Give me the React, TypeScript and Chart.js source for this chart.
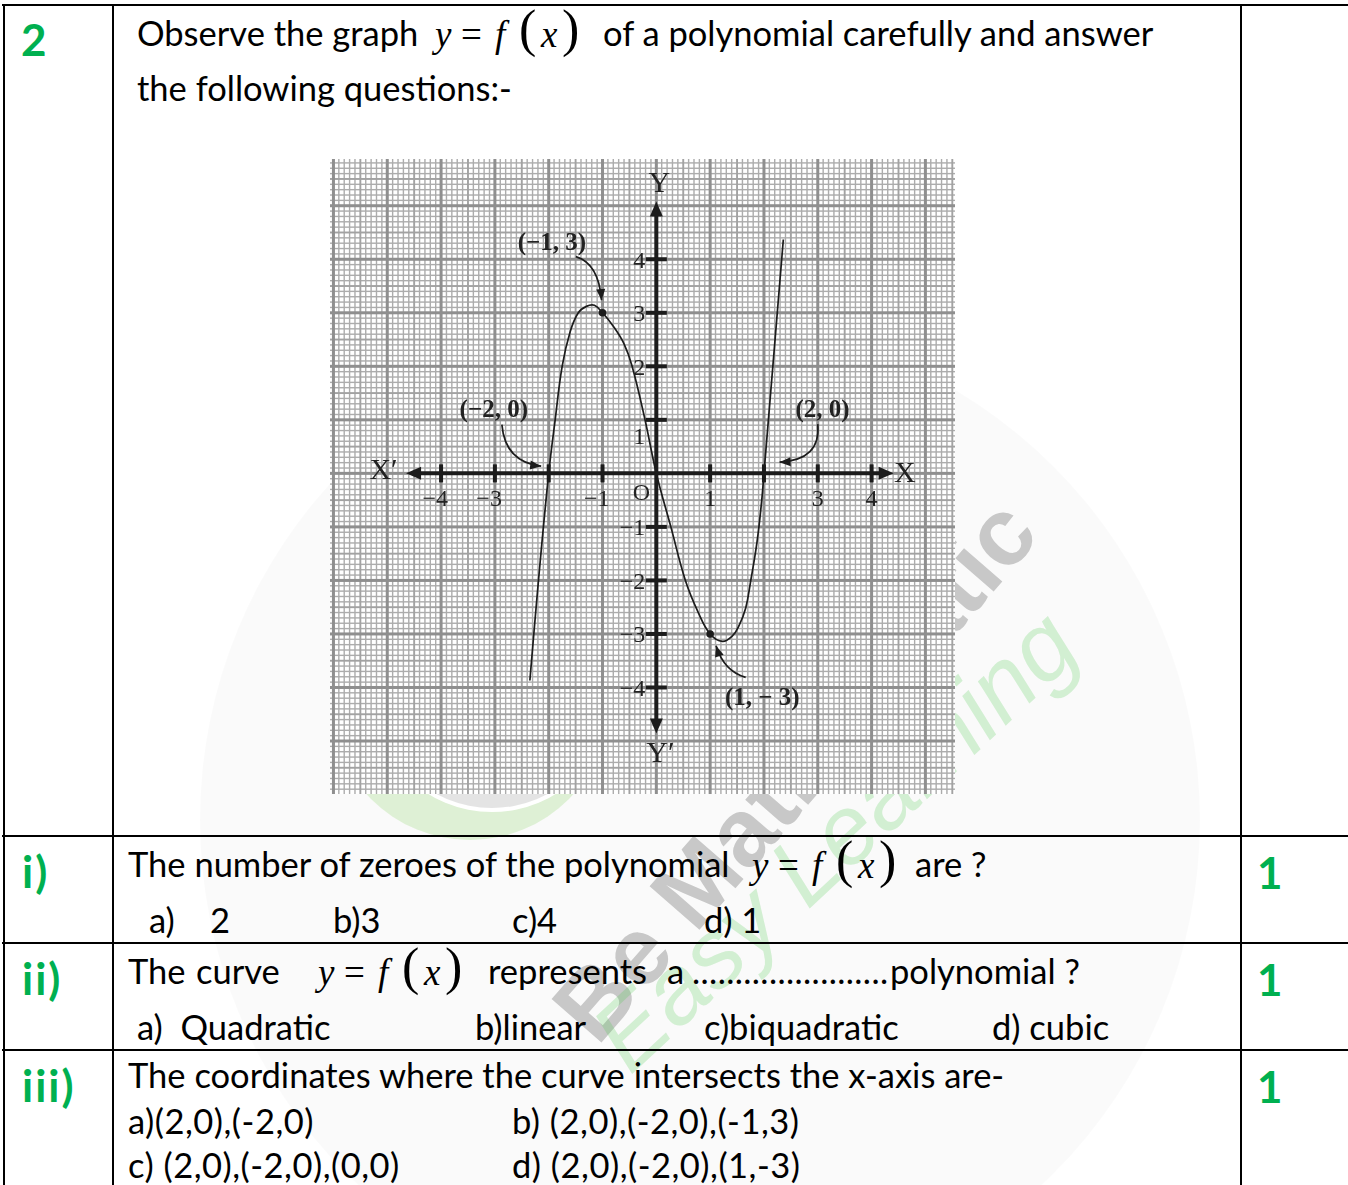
import React, { useEffect, useRef } from "react";
import { Chart, registerables } from "chart.js";

Chart.register(...registerables);

// Samples along the plotted polynomial curve y = f(x)
const curveX = [-2.35, -2.19, -2.0, -1.88, -1.75, -1.6, -1.45, -1.3, -1.15, -1.0, -0.8, -0.6, -0.45, -0.21, 0, 0.27, 0.54, 0.78, 1.0, 1.23, 1.41, 1.53, 1.66, 1.75, 1.87, 1.96, 2.0, 2.165, 2.36];
const curveY = [-3.87, -2.0, 0, 1.0, 2.0, 2.65, 3.0, 3.12, 3.14, 3.0, 2.75, 2.42, 2.0, 1.0, 0, -1.0, -2.0, -2.6, -3.0, -3.14, -3.04, -2.86, -2.52, -2.03, -1.29, -0.49, 0, 2.0, 4.37];

// Turning points marked with dots
const markX = [-1, 1];
const markY = [3, -3];

// Axis ticks and their labels
const axisTicks = [-4, -3, -2, -1, 1, 2, 3, 4];
const xTickText = ["−4", "−3", "", "−1", "1", "", "3", "4"];
const yTickText = ["−4", "−3", "−2", "−1", "1", "2", "3", "4"];

// Callouts: text and the point each arrow points at
const calloutText = ["(−1, 3)", "(−2, 0)", "(2, 0)", "(1, − 3)"];
const calloutX = [-1, -2, 2, 1];
const calloutY = [3, 0, 0, -3];

const X_MIN = -6.064, X_MAX = 5.55, Y_MIN = -5.99, Y_MAX = 5.873;

const SERIF = '"Liberation Serif", "Times New Roman", serif';
const SANS = 'Lato, "Open Sans", sans-serif';
const GREEN = "#00b050";
const INK = "#1c1c1c";
const BODY = 34.5;

// layout of each callout relative to its point, in axis units:
// label centre, arrow start, arrow bend, arrow tip
const calloutLayout = [
  { label: [-0.94, 1.3], start: [-0.495, 1.05], ctrl: [-0.07, 0.92], tip: [-0.018, 0.236] },
  { label: [-1.02, 1.17], start: [-0.87, 0.91], ctrl: [-0.81, 0.21], tip: [-0.14, 0.135] },
  { label: [1.09, 1.17], start: [1.0, 0.92], ctrl: [1.06, 0.245], tip: [0.29, 0.21] },
  { label: [0.97, -1.2], start: [0.66, -0.81], ctrl: [0.26, -0.70], tip: [0.11, -0.22] },
];

// graph-paper ruling: tenths, halves and whole units
const paperPlugin = {
  id: "paper",
  beforeDraw(chart: any) {
    const { ctx, chartArea: a, scales } = chart;
    ctx.save();
    ctx.fillStyle = "#ffffff";
    ctx.fillRect(a.left, a.top, a.right - a.left, a.bottom - a.top);
    const styles = [
      { c: "#acacac", w: 1.4 },
      { c: "#a2a2a2", w: 1.9 },
      { c: "#8f8f8f", w: 3 },
    ];
    for (let pass = 0; pass < 3; pass++) {
      const st = styles[pass];
      ctx.fillStyle = st.c;
      for (let i = Math.ceil(X_MIN * 10); i <= Math.floor(X_MAX * 10); i++) {
        const lvl = i % 10 === 0 ? 2 : i % 5 === 0 ? 1 : 0;
        if (lvl !== pass) continue;
        const x = scales.x.getPixelForValue(i / 10);
        ctx.fillRect(x - st.w / 2, a.top, st.w, a.bottom - a.top);
      }
      for (let i = Math.ceil(Y_MIN * 10); i <= Math.floor(Y_MAX * 10); i++) {
        const lvl = i % 10 === 0 ? 2 : i % 5 === 0 ? 1 : 0;
        if (lvl !== pass) continue;
        const y = scales.y.getPixelForValue(i / 10);
        ctx.fillRect(a.left, y - st.w / 2, a.right - a.left, st.w);
      }
    }
    ctx.restore();
  },
};

function arrowHead(ctx: CanvasRenderingContext2D, fx: number, fy: number, tx: number, ty: number, len: number, half: number) {
  const ang = Math.atan2(ty - fy, tx - fx);
  ctx.beginPath();
  ctx.moveTo(tx, ty);
  ctx.lineTo(tx - len * Math.cos(ang) + half * Math.sin(ang), ty - len * Math.sin(ang) - half * Math.cos(ang));
  ctx.lineTo(tx - len * Math.cos(ang) - half * Math.sin(ang), ty - len * Math.sin(ang) + half * Math.cos(ang));
  ctx.closePath();
  ctx.fill();
}

const axesPlugin = {
  id: "axes",
  beforeDatasetsDraw(chart: any) {
    const { ctx, scales } = chart;
    const X = (v: number) => scales.x.getPixelForValue(v);
    const Y = (v: number) => scales.y.getPixelForValue(v);
    const ox = X(0), oy = Y(0);
    ctx.save();
    ctx.fillStyle = INK;
    ctx.strokeStyle = INK;
    ctx.lineWidth = 4;
    // x axis
    const xl = X(-4.65), xr = X(4.41);
    ctx.beginPath();
    ctx.moveTo(xl + 8, oy);
    ctx.lineTo(xr - 8, oy);
    ctx.stroke();
    arrowHead(ctx, xr - 20, oy, xr, oy, 15, 6.5);
    arrowHead(ctx, xl + 20, oy, xl, oy, 15, 6.5);
    // y axis
    const yt = Y(5.08), yb = Y(-4.86);
    ctx.beginPath();
    ctx.moveTo(ox, yt + 8);
    ctx.lineTo(ox, yb - 8);
    ctx.stroke();
    arrowHead(ctx, ox, yt + 20, ox, yt, 15, 6.5);
    arrowHead(ctx, ox, yb - 20, ox, yb, 15, 6.5);
    // tick marks
    axisTicks.forEach((t) => {
      const x = X(t);
      ctx.fillRect(x - 2, oy - 9, 4, 18);
      const y = Y(t);
      ctx.fillRect(ox - 10.5, y - 2, 21, 4);
    });
    ctx.restore();
  },
  afterDatasetsDraw(chart: any) {
    const { ctx, scales } = chart;
    const X = (v: number) => scales.x.getPixelForValue(v);
    const Y = (v: number) => scales.y.getPixelForValue(v);
    const ox = X(0), oy = Y(0);
    ctx.save();
    ctx.fillStyle = "#222";
    ctx.textBaseline = "middle";
    ctx.font = `24px ${SERIF}`;
    // x tick labels: the digit sits centred under its tick
    axisTicks.forEach((t, i) => {
      const s = xTickText[i];
      if (!s) return;
      const digit = s.replace("−", "");
      const dw = ctx.measureText(digit).width;
      ctx.textAlign = "right";
      ctx.fillText(s, X(t) + dw / 2 + (t < 0 ? 1 : 0), oy + 26);
    });
    ctx.textAlign = "center";
    ctx.fillText("O", ox - 15, oy + 20);
    // y tick labels
    ctx.textAlign = "right";
    axisTicks.forEach((t, i) => {
      const pos = t === 1 ? 0.7 : t;
      ctx.fillText(yTickText[i], ox - 11, Y(pos) + 2);
    });
    // axis names
    ctx.font = `30px ${SERIF}`;
    ctx.textAlign = "center";
    ctx.fillText("X", X(4.62), oy + 1);
    ctx.fillText("X′", X(-5.07), oy - 2);
    ctx.fillText("Y", ox + 3, Y(5.4));
    ctx.fillText("Y′", ox + 4, Y(-5.25));
    // callouts
    calloutText.forEach((txt, i) => {
      const L = calloutLayout[i];
      const bx = calloutX[i], by = calloutY[i];
      ctx.font = `bold 25px ${SERIF}`;
      ctx.textAlign = "center";
      ctx.fillStyle = "#222";
      ctx.fillText(txt, X(bx + L.label[0]), Y(by + L.label[1]));
      const sx = X(bx + L.start[0]), sy = Y(by + L.start[1]);
      const cx = X(bx + L.ctrl[0]), cy = Y(by + L.ctrl[1]);
      const tx = X(bx + L.tip[0]), ty = Y(by + L.tip[1]);
      ctx.strokeStyle = INK;
      ctx.lineWidth = 1.7;
      ctx.beginPath();
      ctx.moveTo(sx, sy);
      ctx.quadraticCurveTo(cx, cy, tx, ty);
      ctx.stroke();
      ctx.fillStyle = INK;
      arrowHead(ctx, cx, cy, tx, ty, 11, 4.5);
    });
    ctx.restore();
  },
};

function PolynomialGraph() {
  const ref = useRef<HTMLCanvasElement>(null);
  useEffect(() => {
    const chart = new Chart(ref.current as HTMLCanvasElement, {
      type: "scatter",
      data: {
        datasets: [
          {
            type: "line",
            data: curveX.map((x, i) => ({ x, y: curveY[i] })),
            borderColor: INK,
            borderWidth: 1.7,
            pointRadius: 0,
            tension: 0.4,
            fill: false,
          } as any,
          {
            type: "scatter",
            data: markX.map((x, i) => ({ x, y: markY[i] })),
            pointRadius: 3.8,
            backgroundColor: INK,
            borderWidth: 0,
          } as any,
        ],
      },
      options: {
        animation: false,
        responsive: false,
        maintainAspectRatio: false,
        events: [],
        layout: { padding: 0 },
        plugins: { legend: { display: false }, tooltip: { enabled: false } },
        scales: {
          x: { type: "linear", min: X_MIN, max: X_MAX, display: false },
          y: { type: "linear", min: Y_MIN, max: Y_MAX, display: false },
        },
      },
      plugins: [paperPlugin, axesPlugin],
    });
    return () => chart.destroy();
  }, []);
  return (
    <canvas
      ref={ref}
      width={633}
      height={643}
      style={{ position: "absolute", left: 326, top: 155, width: 633, height: 643, zIndex: 2 }}
    />
  );
}

function T({ x, base, size = BODY, color = "#000", weight = 400, family = SANS, children, style = {} }: any) {
  return (
    <div
      style={{
        position: "absolute",
        left: x,
        top: base - size * 0.887,
        fontSize: size,
        lineHeight: 1,
        fontFamily: family,
        fontWeight: weight,
        color,
        whiteSpace: "pre",
        zIndex: 3,
        ...style,
      }}
    >
      {children}
    </div>
  );
}

// y = f(x) set in serif italics with tall brackets; glyph offsets follow the typeset equation
function Fx({ x, base }: any) {
  const glyphs: [string, number, number, boolean][] = [
    ["y", 0, 37, true],
    ["=", 26, 37, false],
    ["f", 60, 37, true],
    ["(", 84, 52, false],
    ["x", 106, 37, true],
    [")", 127, 52, false],
  ];
  return (
    <>
      {glyphs.map(([g, dx, fs, it], i) => (
        <div
          key={i}
          style={{
            position: "absolute",
            left: x + dx,
            top: base - fs * 0.8375,
            fontFamily: SERIF,
            fontSize: fs,
            lineHeight: 1,
            fontStyle: it ? "italic" : "normal",
            fontWeight: fs > 40 ? 300 : 400,
            color: "#000",
            zIndex: 3,
          }}
        >
          {g}
        </div>
      ))}
    </>
  );
}

function HLine({ y, x1 = 2, x2 = 1360 }: any) {
  return <div style={{ position: "absolute", left: x1, top: y, width: x2 - x1, height: 2, background: "#000", zIndex: 1 }} />;
}
function VLine({ x, y1 = 4, y2 = 1200 }: any) {
  return <div style={{ position: "absolute", left: x, top: y1, width: 2, height: y2 - y1, background: "#000", zIndex: 1 }} />;
}

function Rot({ x, y, angle, size, family, weight = 400, italic = false, color, text }: any) {
  return (
    <div style={{ position: "absolute", left: x, top: y, width: 0, height: 0, transform: `rotate(${angle}deg)`, transformOrigin: "0 0", zIndex: 0 }}>
      <div
        style={{
          position: "absolute",
          left: 0,
          top: -size * 0.85,
          fontSize: size,
          lineHeight: 1,
          fontFamily: family,
          fontWeight: weight,
          fontStyle: italic ? "italic" : "normal",
          color,
          whiteSpace: "pre",
        }}
      >
        {text}
      </div>
    </div>
  );
}

function Watermark() {
  const disc = (cx: number, cy: number, r: number, bg: string) => (
    <div style={{ position: "absolute", left: cx - r, top: cy - r, width: 2 * r, height: 2 * r, borderRadius: "50%", background: bg, zIndex: 0 }} />
  );
  return (
    <>
      {disc(700, 820, 500, "rgba(0,0,0,0.018)")}
      {disc(470, 700, 140, "rgba(150,215,120,0.28)")}
      {disc(492, 690, 122, "rgba(255,255,255,1)")}
      {disc(492, 690, 118, "rgba(170,170,170,0.32)")}
      {disc(500, 680, 98, "rgba(255,255,255,1)")}
      {disc(500, 680, 92, "rgba(250,225,120,0.33)")}
      <Rot x={598} y={1048} angle={-49} size={96} family='"Liberation Sans", sans-serif' weight={700} color="rgba(110,110,110,0.36)" text="Be Mathematic" />
      <Rot x={630} y={1076} angle={-43} size={97} family='"Liberation Sans", sans-serif' italic color="rgba(70,200,70,0.22)" text="Easy Learning" />
    </>
  );
}

function GreenMark({ x, base, children, size = 44 }: any) {
  return (
    <T x={x} base={base} size={size} weight={700} color={GREEN} style={{ letterSpacing: 2 }}>
      {children}
    </T>
  );
}

export default function App() {
  return (
    <div style={{ position: "absolute", left: 0, top: 0, width: 1348, height: 1185, overflow: "hidden", background: "#fff" }}>
      <Watermark />
      {/* table rules */}
      <HLine y={4} />
      <HLine y={835} />
      <HLine y={942} />
      <HLine y={1049} />
      <VLine x={3} />
      <VLine x={112} />
      <VLine x={1240} />

      <PolynomialGraph />

      {/* question number */}
      <GreenMark x={21} base={56}>2</GreenMark>
      <T x={137} base={47}>Observe the graph</T>
      <Fx x={435} base={47} />
      <T x={603} base={47}>of a polynomial carefully and answer</T>
      <T x={137} base={102}>the following questions:-</T>

      {/* part i */}
      <GreenMark x={22} base={888}>i)</GreenMark>
      <T x={128} base={878}>The number of zeroes of the polynomial</T>
      <Fx x={752} base={878} />
      <T x={915} base={878}>are ?</T>
      <T x={149} base={934}>a)</T>
      <T x={210} base={934}>2</T>
      <T x={333} base={934}>b)3</T>
      <T x={512} base={934}>c)4</T>
      <T x={704} base={934}>d) 1</T>
      <GreenMark x={1257} base={889}>1</GreenMark>

      {/* part ii */}
      <GreenMark x={22} base={995}>ii)</GreenMark>
      <T x={128} base={985}>The</T>
      <T x={196} base={985}>curve</T>
      <Fx x={318} base={985} />
      <T x={488} base={985}>represents</T>
      <T x={667} base={985}>a</T>
      <T x={692} base={985} style={{ width: 197, overflow: "hidden", letterSpacing: 0.4 }}>................................</T>
      <T x={890} base={985}>polynomial ?</T>
      <T x={137} base={1041}>a)  Quadratic</T>
      <T x={475} base={1041}>b)linear</T>
      <T x={704} base={1041}>c)biquadratic</T>
      <T x={992} base={1041}>d) cubic</T>
      <GreenMark x={1257} base={996}>1</GreenMark>

      {/* part iii */}
      <GreenMark x={22} base={1102}>iii)</GreenMark>
      <T x={128} base={1089}>The coordinates where the curve intersects the x-axis are-</T>
      <T x={128} base={1135} style={{ letterSpacing: 0.5 }}>a)(2,0),(-2,0)</T>
      <T x={512} base={1135} style={{ letterSpacing: 0.5 }}>b) (2,0),(-2,0),(-1,3)</T>
      <T x={128} base={1179} style={{ letterSpacing: 0.5 }}>c) (2,0),(-2,0),(0,0)</T>
      <T x={512} base={1179} style={{ letterSpacing: 0.5 }}>d) (2,0),(-2,0),(1,-3)</T>
      <GreenMark x={1257} base={1103}>1</GreenMark>
    </div>
  );
}
